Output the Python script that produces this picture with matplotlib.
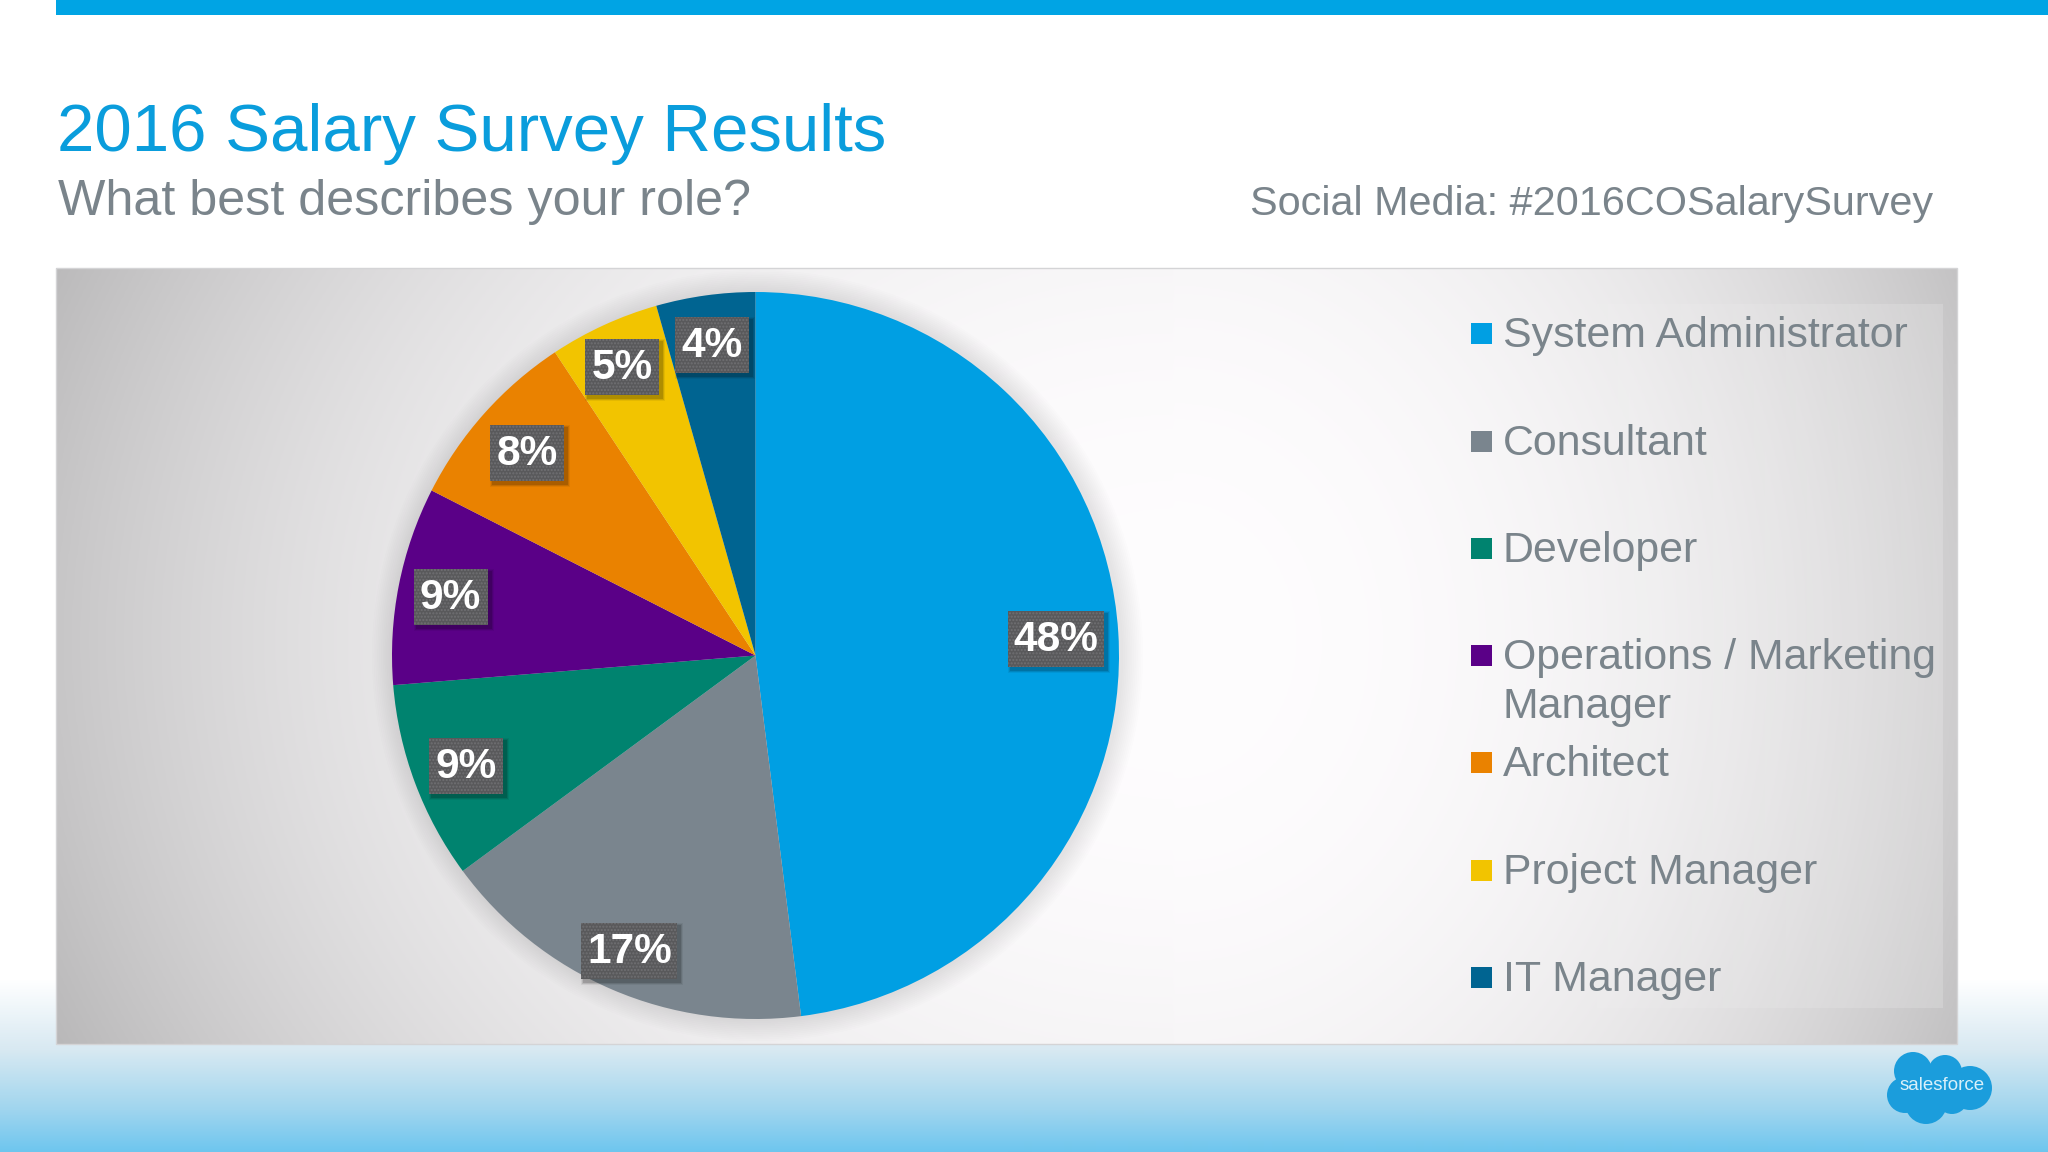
import numpy as np
import matplotlib
matplotlib.use("Agg")
import matplotlib.pyplot as plt
from matplotlib.patches import Rectangle, Circle

plt.rcParams['font.family'] = ['Liberation Sans', 'DejaVu Sans']
plt.rcParams['hatch.linewidth'] = 1.0

# ---- data ----
roles = ["System Administrator", "Consultant", "Developer",
         "Operations / Marketing\nManager", "Architect", "Project Manager", "IT Manager"]
slice_shares = [48.0, 16.9, 8.8, 8.8, 8.2, 4.9, 4.4]   # drawn size of each slice
printed_labels = ["48%", "17%", "9%", "9%", "8%", "5%", "4%"]  # text printed on the slices
colors = ["#009FE3", "#7A858E", "#00836F", "#5A0087", "#EA8200", "#F2C400", "#006491"]

title = "2016 Salary Survey Results"
subtitle = "What best describes your role?"
hashtag = "Social Media: #2016COSalarySurvey"

# ---- layout (pixels) ----
W, H = 2048, 1152
def Y(y):
    return H - y
PX, PY0, PY1, PX1 = 56, 268, 1044, 1957
CX, CY, R = 755.5, 655.5, 363.5
label_frac = [0.829, 0.88, 0.85, 0.855, 0.843, 0.879, 0.868]
TXT = "#7A848B"

fig = plt.figure(figsize=(W / 100, H / 100), dpi=100, facecolor="white")
ax = fig.add_axes([0, 0, 1, 1])
ax.set_axis_off()

# bottom page gradient
yy = np.linspace(0, H, 1153)
stops_y = [0, 980, 1050, 1110, 1152]
stops_c = np.array([[255, 255, 255], [255, 255, 255], [216, 233, 242], [160, 213, 238], [110, 198, 238]]) / 255
grad = np.stack([np.interp(yy, stops_y, stops_c[:, i]) for i in range(3)], axis=1)[:, None, :]
ax.imshow(grad, extent=(0, W, 0, H), origin="upper", aspect="auto", zorder=0)

# panel gradient
gx = np.linspace(PX, PX1, 500)
gy = np.linspace(PY0, PY1, 260)
xg, yg = np.meshgrid(gx, gy)
CGX, CGY = 1175, 640
ax_scale = np.where(xg < CGX, 1120, 790)
strength = np.where(xg < CGX, 0.215, 0.19)
d = np.sqrt(((xg - CGX) / ax_scale) ** 2 + ((yg - CGY) / 900) ** 2)
v = np.clip(1 - strength * np.clip(d, 0, 1.3) ** 2.5, 0, 1)
panel = np.stack([v * 0.995, v * 0.99, v * 0.995], axis=2)
ax.imshow(panel, extent=(PX, PX1, Y(PY1), Y(PY0)), origin="upper", aspect="auto", zorder=1)
ax.add_patch(Rectangle((PX, Y(PY1)), PX1 - PX, PY1 - PY0, fill=False, ec="#D4D4D6", lw=1, zorder=1.1))
# lighter inner legend plate, fading in from its left side
plate_x = np.linspace(0, 1, 200)
plate = np.ones((1, 200, 4))
plate[..., 3] = 0.18 * plate_x
ax.imshow(plate, extent=(1460, 1943, Y(1008), Y(304)), origin="upper", aspect="auto", zorder=1.2)

# top bar
ax.add_patch(Rectangle((56, Y(15)), W - 56, 15, fc="#00A4E4", ec="none", zorder=2))

# titles
ax.text(57, Y(134), title, color="#0A9DDC", fontsize=48.4, va="center", ha="left", zorder=5)
ax.text(58, Y(202), subtitle, color=TXT, fontsize=36.2, va="center", ha="left", zorder=5)
ax.text(1250, Y(204), hashtag, color=TXT, fontsize=29.8, va="center", ha="left", zorder=5)

# soft pie shadow
for k in np.linspace(22, 2, 12):
    ax.add_patch(Circle((CX + 2, Y(CY)), R + k, fc="#5A5A60", alpha=0.01, ec="none", zorder=2.5))

wedges, _ = ax.pie(slice_shares, colors=colors, startangle=90, counterclock=False,
                   radius=R, center=(CX, Y(CY)), frame=True,
                   wedgeprops=dict(linewidth=0, zorder=3))
for w in wedges:
    w.set_zorder(3)

# slice labels
for w, lab, f in zip(wedges, printed_labels, label_frac):
    ang = np.deg2rad((w.theta1 + w.theta2) / 2)
    lx = CX + R * f * np.cos(ang)
    ly = Y(CY) + R * f * np.sin(ang) - 2
    bw = 96 if len(lab) == 3 else 74
    bh = 56
    for g, a in [(6, 0.06), (4, 0.1), (2, 0.14)]:
        ax.add_patch(Rectangle((lx - bw / 2 + 3 - g / 2, ly - bh / 2 - 3 - g / 2), bw + g, bh + g,
                               fc="black", alpha=a, ec="none", zorder=3.4))
    ax.add_patch(Rectangle((lx - bw / 2, ly - bh / 2), bw, bh, fc="#59595B", ec="none", zorder=3.5))
    ax.add_patch(Rectangle((lx - bw / 2, ly - bh / 2), bw, bh, fill=False, ec="#707073", lw=0, hatch=".....", zorder=3.6))
    ax.text(lx, ly - 1, lab, color="white", fontsize=30.5, fontweight="bold", ha="center", va="center", zorder=4)

# legend
leg_y = [333, 441, 548, 655, 762, 870, 977]
for c, name, yy_ in zip(colors, roles, leg_y):
    ax.add_patch(Rectangle((1471, Y(yy_ + 11)), 21, 21, fc=c, ec="none", zorder=4))
    ax.text(1503, Y(yy_ + 3), name.split("\n")[0], color=TXT, fontsize=30.9, va="center", ha="left", zorder=5)
    if "\n" in name:
        ax.text(1503, Y(yy_ + 52), name.split("\n")[1], color=TXT, fontsize=30.9, va="center", ha="left", zorder=5)

# logo
for (x, y, r) in [(1913, 1071, 19), (1945, 1072, 17), (1970, 1088, 22), (1905, 1095, 18),
                  (1926, 1103, 21), (1952, 1098, 16), (1938, 1088, 24)]:
    ax.add_patch(Circle((x, Y(y)), r, fc="#1B9DDC", ec="none", zorder=5))
ax.text(1942, Y(1085), "salesforce", color="#D8F0FA", fontsize=13.5, ha="center", va="center", zorder=6)

ax.set_xlim(0, W)
ax.set_ylim(0, H)
ax.set_aspect("auto")
fig.savefig("out.png", dpi=100, facecolor="white")
